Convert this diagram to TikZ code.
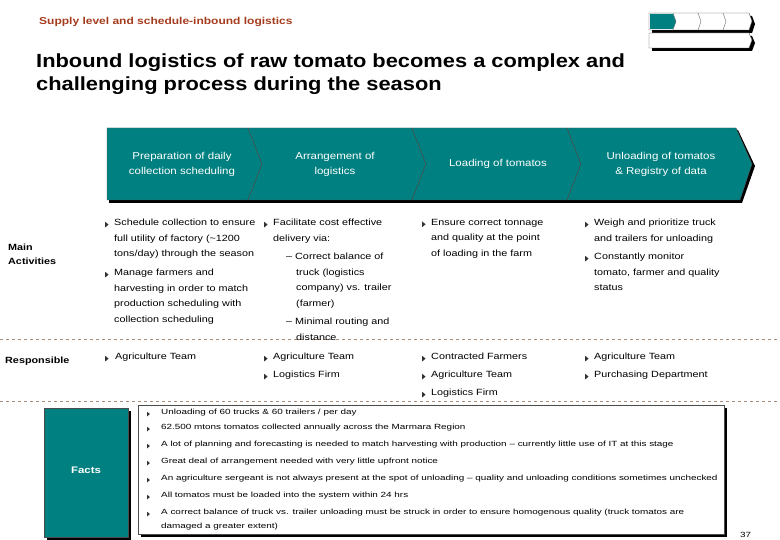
\documentclass[tikz,border=0pt]{standalone}
\usepackage{fontspec}
\setmainfont{Liberation Sans}
\newfontfamily\wideA[FakeStretch=1.2]{Liberation Sans}
\newfontfamily\wideB[FakeStretch=1.32]{Liberation Sans}
\newfontfamily\wideC[FakeStretch=1.15]{Liberation Sans}
\usepackage{xcolor}
\definecolor{teal1}{RGB}{0,128,128}
\definecolor{brn}{RGB}{165,60,30}
\definecolor{dsh}{RGB}{170,140,120}
\newcommand{\tri}{\tikz[x=1pt,y=1pt,baseline=-0.5pt]\fill[black!80] (0,-2.2) -- (3.4,0.6) -- (0,3.4) -- cycle;}
\newcommand{\bul}{\makebox[9pt][l]{\tri}}
\begin{document}
\begin{tikzpicture}[x=1pt,y=-1pt,
  chev/.style={fill=teal1,draw=black!70,line width=0.4pt},
  shad/.style={fill=black},
  chevtext/.style={text=white,align=center,font=\wideC\fontsize{10}{15}\selectfont},
  body/.style={anchor=north west,align=left,font=\wideA\fontsize{9}{15.6}\selectfont,inner sep=0pt},
  resp/.style={body,font=\wideA\fontsize{9}{18}\selectfont},
  fact/.style={anchor=west,font=\wideB\fontsize{7.5}{9}\selectfont,inner sep=0pt},
  lab/.style={anchor=west,font=\wideA\bfseries\fontsize{9}{14}\selectfont,align=left,inner sep=0pt},
  dline/.style={dsh,dashed,line width=0.6pt}]
\useasboundingbox (0,0) rectangle (780,540);
% header
\node[anchor=west,text=brn,font=\wideA\bfseries\fontsize{10}{11}\selectfont,inner sep=0pt] (sup) at (39,22) {Supply level and schedule-inbound logistics};
\node[anchor=north west,align=left,font=\wideC\bfseries\fontsize{19}{23}\selectfont,inner sep=0pt] (title) at (36,54) {Inbound logistics of raw tomato becomes a complex and\\challenging process during the season};
% top right icon
\fill[black] (652,16) -- (752,16) -- (755,24) -- (752,33) -- (652,33) -- cycle;
\draw[fill=white,draw=black!70] (649,13) -- (749,13) -- (752,21) -- (749,30) -- (649,30) -- cycle;
\fill[teal1] (650,14) -- (673,14) -- (676,21.5) -- (673,29) -- (650,29) -- cycle;
\foreach \x in {673,698,723}{\draw[black!60] (\x,13) -- (\x+3,21.5) -- (\x,30);}
\fill[black] (652,36) -- (752,36) -- (755,43) -- (752,51) -- (652,51) -- cycle;
\draw[fill=white,draw=black!70] (649,33) -- (749,33) -- (752,40) -- (749,48) -- (649,48) -- cycle;
% chevrons
\fill[shad] (109,130) -- (738,130) -- (755,166) -- (742,203) -- (109,203) -- cycle;
\draw[chev] (107,128) -- (248,128) -- (262,164) -- (248,200) -- (107,200) -- cycle;
\draw[chev] (248,128) -- (412,128) -- (426,164) -- (412,200) -- (248,200) -- (262,164) -- cycle;
\draw[chev] (412,128) -- (567,128) -- (581,164) -- (567,200) -- (412,200) -- (426,164) -- cycle;
\draw[chev] (567,128) -- (736,128) -- (752,164) -- (740,200) -- (567,200) -- (581,164) -- cycle;
\node[chevtext] (c1) at (182,164) {Preparation of daily\\collection scheduling};
\node[chevtext] (c2) at (335,164) {Arrangement of\\logistics};
\node[chevtext] (c3) at (498,164) {Loading of tomatos};
\node[chevtext] (c4) at (661,164) {Unloading of tomatos\\\& Registry of data};
% labels
\node[lab] (ma) at (8,254) {Main\\Activities};
\node[lab] (resp) at (5,361) {Responsible};
\draw[dline] (0,339) -- (780,339);
\draw[dline] (0,401) -- (780,401);
% activities
\node[body] (a1) at (105,219) {\bul Schedule collection to ensure\\\hspace{9pt}full utility of factory (\textasciitilde1200\\\hspace{9pt}tons/day) through the season};
\node[body] (a1b) at (105,269) {\bul Manage farmers and\\\hspace{9pt}harvesting in order to match\\\hspace{9pt}production scheduling with\\\hspace{9pt}collection scheduling};
\node[body] (a2) at (264,219) {\bul Facilitate cost effective\\\hspace{9pt}delivery via:};
\node[body] (a2b) at (286,253) {\textendash\ Correct balance of\\\hspace{10pt}truck (logistics\\\hspace{10pt}company) vs. trailer\\\hspace{10pt}(farmer)};
\node[body] (a2c) at (286,318) {\textendash\ Minimal routing and\\\hspace{10pt}distance};
\node[body] (a3) at (422,219) {\bul Ensure correct tonnage\\\hspace{9pt}and quality at the point\\\hspace{9pt}of loading in the farm};
\node[body] (a4) at (585,219) {\bul Weigh and prioritize truck\\\hspace{9pt}and trailers for unloading};
\node[body] (a4b) at (585,253) {\bul Constantly monitor\\\hspace{9pt}tomato, farmer and quality\\\hspace{9pt}status};
% responsible
\node[resp] (r1) at (105,353) {\bul\hspace{1pt}Agriculture Team};
\node[resp] (r2) at (264,353) {\bul Agriculture Team\\\bul Logistics Firm};
\node[resp] (r3) at (422,353) {\bul Contracted Farmers\\\bul Agriculture Team\\\bul Logistics Firm};
\node[resp] (r4) at (585,353) {\bul Agriculture Team\\\bul Purchasing Department};
% facts
\fill[black] (47,411) rectangle (131,540);
\draw[fill=teal1,draw=black!70] (44,408) rectangle (128,537);
\node[text=white,font=\wideA\bfseries\fontsize{9.5}{10}\selectfont] (facts) at (86,470) {Facts};
\fill[black] (141,408) rectangle (727,537);
\draw[fill=white,draw=black!70] (138,405) rectangle (724,534);
\foreach \yy/\t in {413/{Unloading of 60 trucks \& 60 trailers / per day},
  428/{62.500 mtons tomatos collected annually across the Marmara Region},
  445/{A lot of planning and forecasting is needed to match harvesting with production \textendash\ currently little use of IT at this stage},
  462/{Great deal of arrangement needed with very little upfront notice},
  479/{An agriculture sergeant is not always present at the spot of unloading \textendash\ quality and unloading conditions sometimes unchecked},
  496/{All tomatos must be loaded into the system within 24 hrs},
  513/{A correct balance of truck vs. trailer unloading must be struck in order to ensure homogenous quality (truck tomatos are}}{
  \node[fact] at (147,\yy) {\makebox[14pt][l]{\scalebox{0.8}{\tri}}\t};}
\node[fact] (f8) at (161,527) {damaged a greater extent)};
\node[fact] (pg) at (740,535) {37};
\end{tikzpicture}
\end{document}
